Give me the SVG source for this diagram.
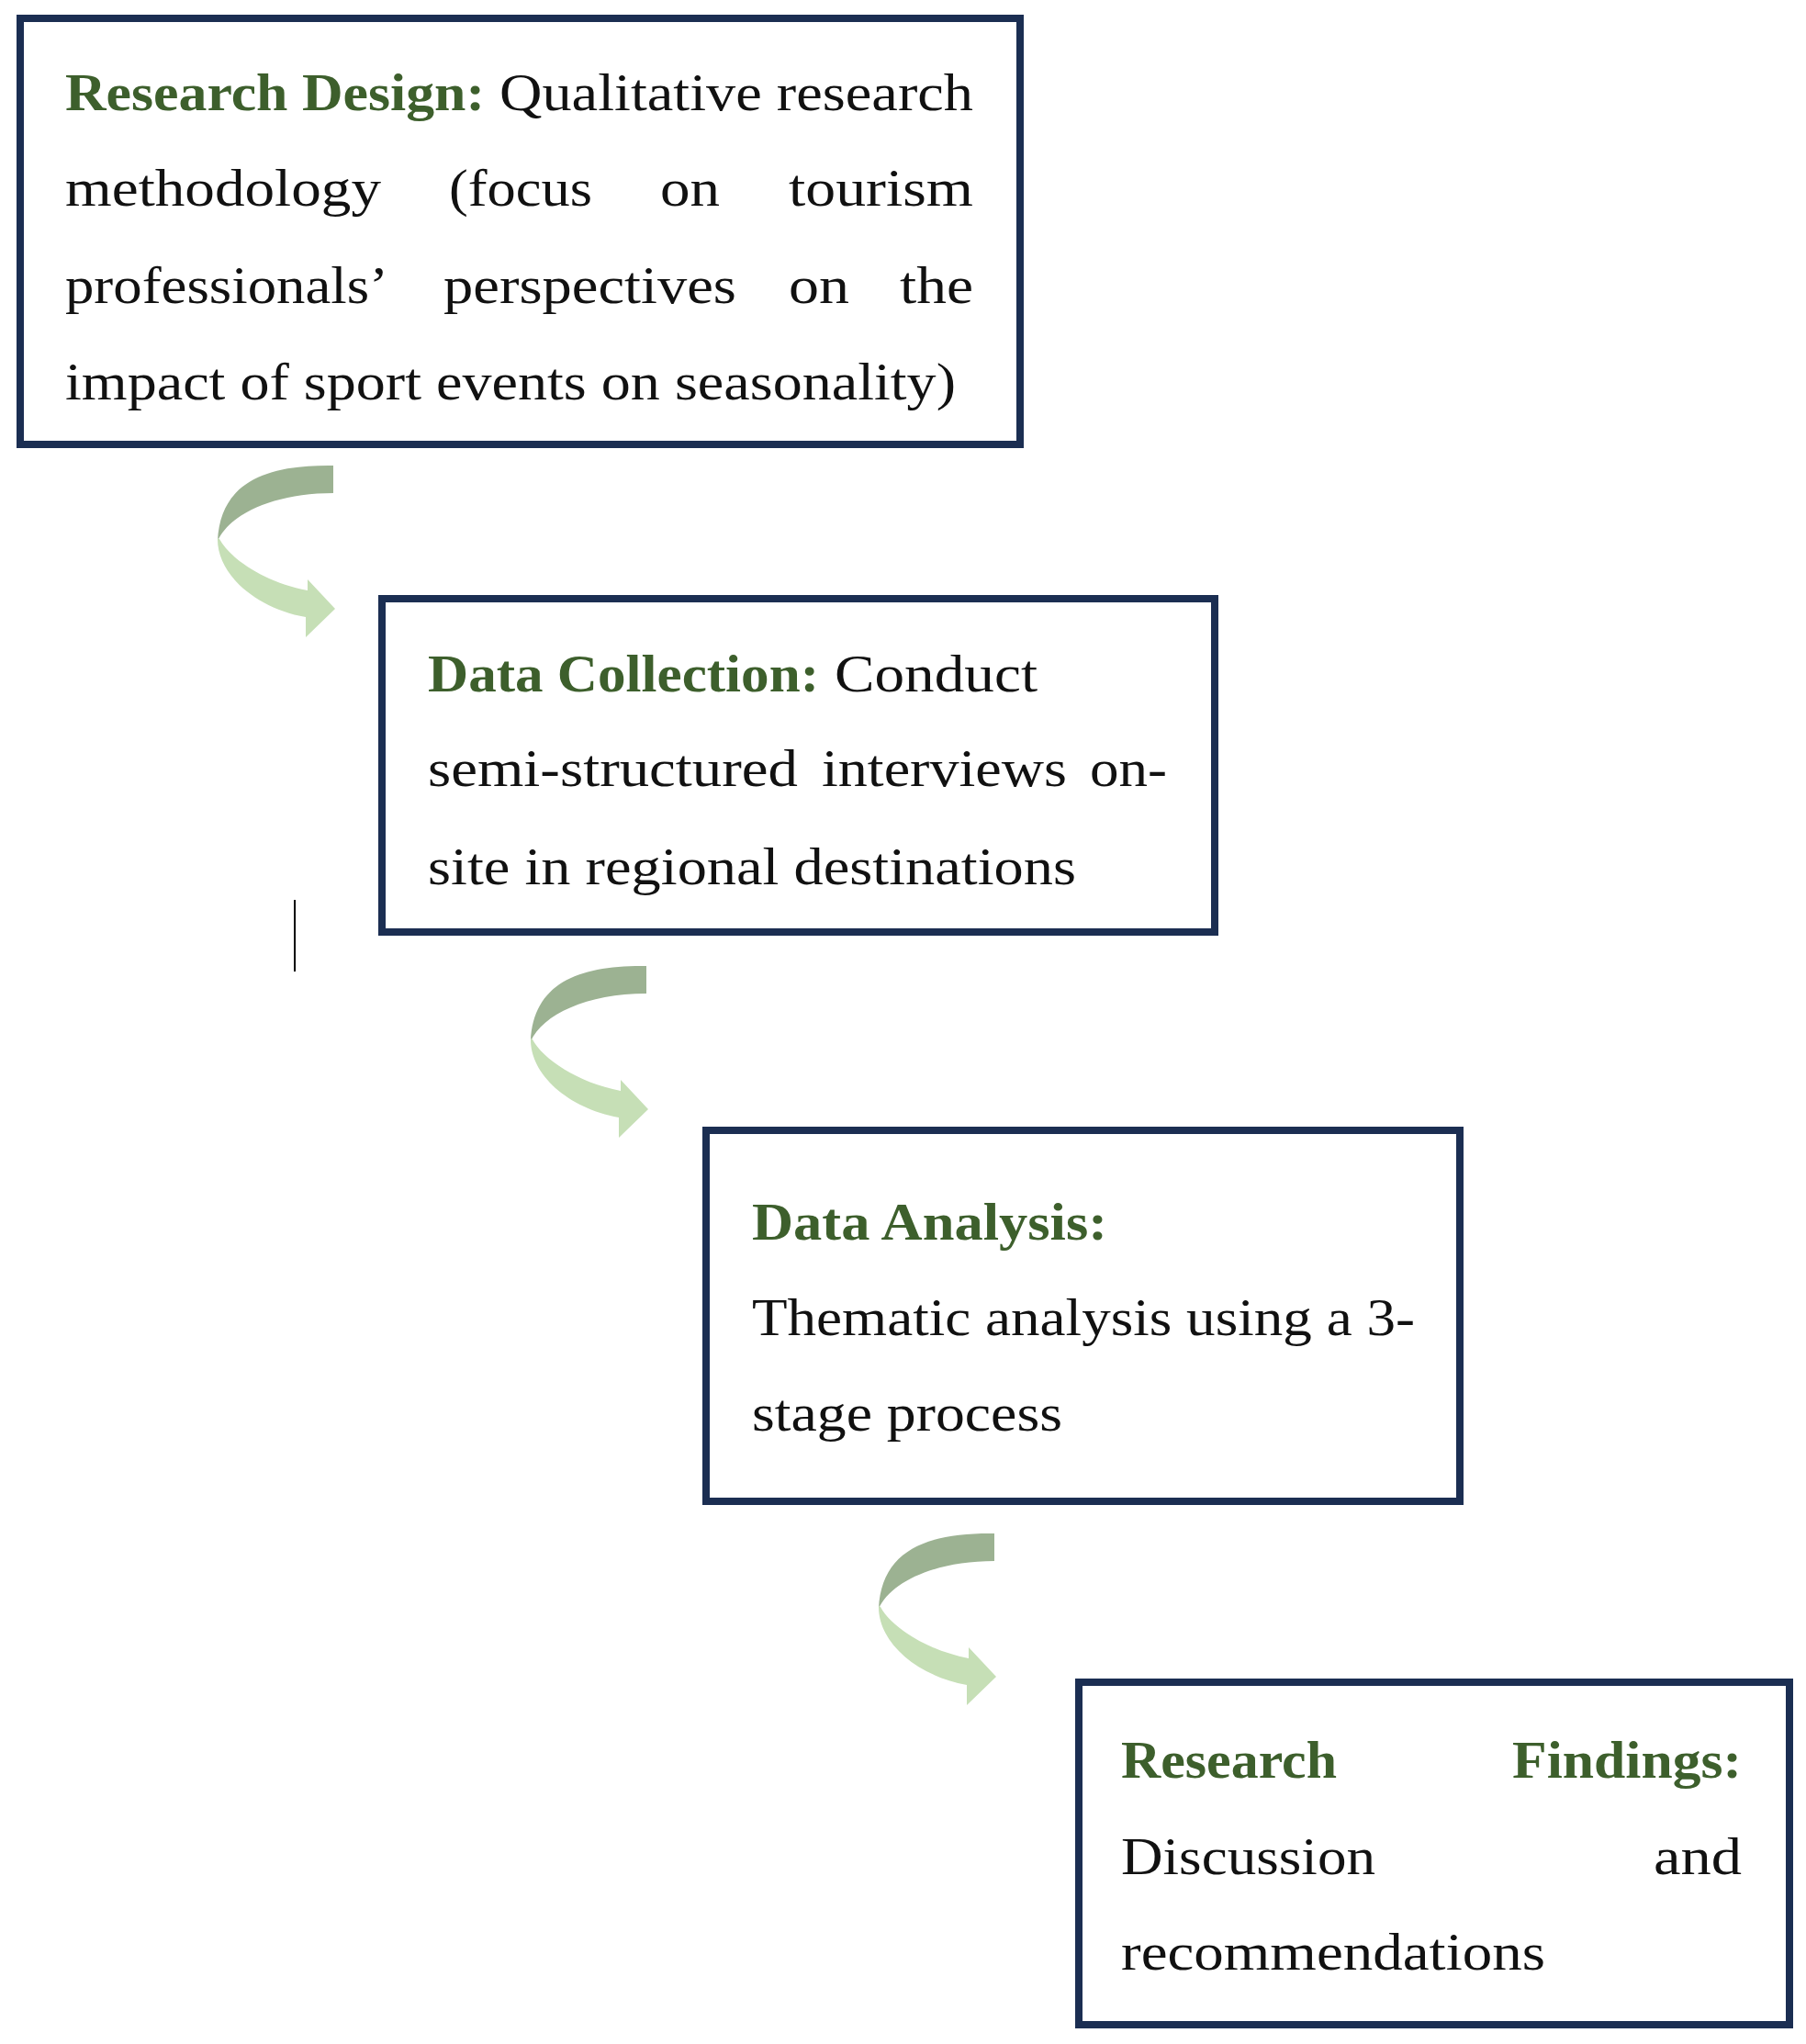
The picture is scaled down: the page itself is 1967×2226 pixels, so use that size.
<svg xmlns="http://www.w3.org/2000/svg" xmlns:xlink="http://www.w3.org/1999/xlink" width="1967" height="2226" viewBox="0 0 1967 2226">
<style>
.box{fill:#ffffff;stroke:#1b2e52;stroke-width:8}
.t{font-family:"Liberation Serif","Times New Roman",serif;font-size:58px;fill:#111111}
.h{font-family:"Liberation Serif","Times New Roman",serif;font-size:58px;font-weight:bold;fill:#3d5f2c}
.dark{fill:#9cb292}
.light{fill:#c6dfb6}
</style>
<defs>
<g id="curvedArrow">
<path class="dark" d="M363,507 C290,506 240,525 237,589 C250,560 298,537 363,537 Z"/>
<path class="light" d="M237,586 C236,625 278,662 333,672 L333,694 L365,663 L335,631 L335,643 C288,634 250,608 239,587 Z"/>
</g>
</defs>
<rect width="1967" height="2226" fill="#ffffff"/>
<g id="connectors">
<use xlink:href="#curvedArrow"/>
<use xlink:href="#curvedArrow" transform="translate(341,545)"/>
<use xlink:href="#curvedArrow" transform="translate(720,1163)"/>
<line x1="321" y1="980" x2="321" y2="1058" stroke="#000000" stroke-width="2"/>
</g>
<g id="node-research-design">
<rect class="box" x="22" y="20" width="1089" height="464"/>
<text class="h" x="71" y="120" textLength="457" lengthAdjust="spacingAndGlyphs">Research Design:</text>
<text class="t" x="544" y="120" textLength="516" lengthAdjust="spacingAndGlyphs">Qualitative research</text>
<text class="t" x="71" y="224" textLength="344" lengthAdjust="spacingAndGlyphs">methodology</text>
<text class="t" x="489" y="224" textLength="156" lengthAdjust="spacingAndGlyphs">(focus</text>
<text class="t" x="719" y="224" textLength="65" lengthAdjust="spacingAndGlyphs">on</text>
<text class="t" x="859" y="224" textLength="201" lengthAdjust="spacingAndGlyphs">tourism</text>
<text class="t" x="71" y="330" textLength="352" lengthAdjust="spacingAndGlyphs">professionals’</text>
<text class="t" x="483" y="330" textLength="319" lengthAdjust="spacingAndGlyphs">perspectives</text>
<text class="t" x="859" y="330" textLength="66" lengthAdjust="spacingAndGlyphs">on</text>
<text class="t" x="980" y="330" textLength="80" lengthAdjust="spacingAndGlyphs">the</text>
<text class="t" x="71" y="435" textLength="970" lengthAdjust="spacingAndGlyphs">impact of sport events on seasonality)</text>
</g>
<g id="node-data-collection">
<rect class="box" x="416" y="652" width="907" height="363"/>
<text class="h" x="466" y="753" textLength="426" lengthAdjust="spacingAndGlyphs">Data Collection:</text>
<text class="t" x="909" y="753" textLength="221" lengthAdjust="spacingAndGlyphs">Conduct</text>
<text class="t" x="466" y="856" textLength="403" lengthAdjust="spacingAndGlyphs">semi-structured</text>
<text class="t" x="895" y="856" textLength="267" lengthAdjust="spacingAndGlyphs">interviews</text>
<text class="t" x="1187" y="856" textLength="84" lengthAdjust="spacingAndGlyphs">on-</text>
<text class="t" x="466" y="963" textLength="706" lengthAdjust="spacingAndGlyphs">site in regional destinations</text>
</g>
<g id="node-data-analysis">
<rect class="box" x="769" y="1231" width="821" height="404"/>
<text class="h" x="819" y="1350" textLength="387" lengthAdjust="spacingAndGlyphs">Data Analysis:</text>
<text class="t" x="819" y="1454" textLength="722" lengthAdjust="spacingAndGlyphs">Thematic analysis using a 3-</text>
<text class="t" x="819" y="1558" textLength="338" lengthAdjust="spacingAndGlyphs">stage process</text>
</g>
<g id="node-research-findings">
<rect class="box" x="1175" y="1832" width="774" height="373"/>
<text class="h" x="1221" y="1936" textLength="235" lengthAdjust="spacingAndGlyphs">Research</text>
<text class="h" x="1647" y="1936" textLength="250" lengthAdjust="spacingAndGlyphs">Findings:</text>
<text class="t" x="1221" y="2041" textLength="277" lengthAdjust="spacingAndGlyphs">Discussion</text>
<text class="t" x="1801" y="2041" textLength="96" lengthAdjust="spacingAndGlyphs">and</text>
<text class="t" x="1221" y="2145" textLength="462" lengthAdjust="spacingAndGlyphs">recommendations</text>
</g>
</svg>
